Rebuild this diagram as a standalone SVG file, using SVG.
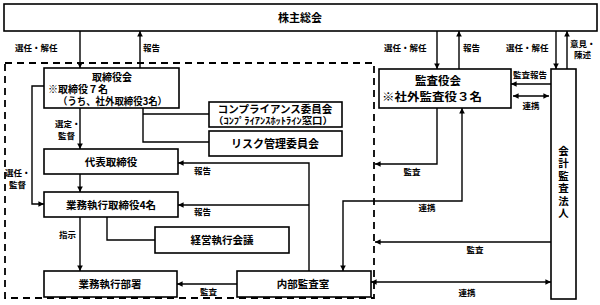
<svg xmlns="http://www.w3.org/2000/svg" width="600" height="305" viewBox="0 0 600 305">
<defs>
<marker id="ah" viewBox="0 0 6 6" refX="6" refY="3" markerWidth="4" markerHeight="4" markerUnits="strokeWidth" orient="auto-start-reverse"><path d="M0,0 L6,3 L0,6 z" fill="#000"/></marker>
<style>
.box{fill:#fff;stroke:#000;stroke-width:1.6}
.ln{fill:none;stroke:#000;stroke-width:1.4}
.ar{fill:none;stroke:#000;stroke-width:1.4;marker-end:url(#ah)}
.ar2{fill:none;stroke:#000;stroke-width:1.4;marker-end:url(#ah);marker-start:url(#ah)}
text{font-family:"Noto Sans CJK JP","Noto Sans",sans-serif;font-weight:bold;fill:#000}
.t{font-size:10.5px}
.s{font-size:8.5px}
.m{text-anchor:middle}
</style>
</defs>
<rect width="600" height="305" fill="#fff"/>
<rect x="5" y="63" width="369" height="235" fill="none" stroke="#000" stroke-width="1.8" stroke-dasharray="7,5"/>
<g id="connectors">
<path class="ar" d="M80,31 V68"/>
<path class="ar" d="M140,68 V31"/>
<path class="ar" d="M437,31 V69"/>
<path class="ar" d="M459,69 V31"/>
<path class="ar" d="M556,31 V69"/>
<path class="ar" d="M567,69 V31"/>
<path class="ln" d="M143,108 V142 H209 M143,114 H209"/>
<path class="ar" d="M80,108 V149"/>
<path class="ar" d="M80,174 V192"/>
<path class="ar" d="M44,86 H32 V204 H44"/>
<path class="ar" d="M80,217 V271"/>
<path class="ln" d="M107,217 V240 H155"/>
<path class="ar" d="M237,284 H177"/>
<path class="ar" d="M309,271 V163 H178"/>
<path class="ar" d="M309,205 H178"/>
<path class="ar2" d="M462,108 V201 H343 V271"/>
<path class="ar" d="M437,108 V164 H375"/>
<path class="ar" d="M551,84 H511"/>
<path class="ar2" d="M513,96 H549"/>
<path class="ar" d="M551,242 H375"/>
<path class="ar2" d="M371,282 H551"/>
</g>
<g id="labels">
<text class="s" x="15" y="51">選任・解任</text>
<text class="s" x="143" y="51">報告</text>
<text class="s" x="384" y="51">選任・解任</text>
<text class="s" x="463" y="51">報告</text>
<text class="s" x="506" y="51">選任・解任</text>
<text class="s" x="570" y="47">意見・</text>
<text class="s" x="574" y="58">陳述</text>
<text class="s" x="513" y="78">監査報告</text>
<text class="s m" x="531" y="109">連携</text>
<text class="s" x="55" y="127">選定・</text>
<text class="s" x="58" y="139">監督</text>
<text class="s" x="5" y="176">選任・</text>
<text class="s" x="9" y="188">監督</text>
<text class="s" x="194" y="174">報告</text>
<text class="s" x="194" y="215">報告</text>
<text class="s" x="59" y="238">指示</text>
<text class="s" x="200" y="295">監査</text>
<text class="s m" x="412" y="175">監査</text>
<text class="s m" x="427" y="211">連携</text>
<text class="s m" x="475" y="253">監査</text>
<text class="s m" x="467" y="296">連携</text>
</g>
<g id="shareholders"><rect class="box" x="4" y="4" width="593" height="27"/><text class="m" font-size="11" x="300" y="21.5">株主総会</text></g>
<g id="board"><rect class="box" x="44" y="68" width="135" height="40"/><text font-size="10"><tspan x="112" y="80.5" text-anchor="middle">取締役会</tspan><tspan x="48" y="92.5">※取締役７名</tspan><tspan x="58" y="104.5" textLength="109" lengthAdjust="spacingAndGlyphs">（うち、社外取締役3名）</tspan></text></g>
<g id="compliance"><rect class="box" x="209" y="102" width="133" height="25"/><text><tspan font-size="10.5" x="275" y="112.5" text-anchor="middle">コンプライアンス委員会</tspan><tspan font-size="9.5" x="213" y="124" textLength="120" lengthAdjust="spacingAndGlyphs">（ｺﾝﾌﾟﾗｲｱﾝｽﾎｯﾄﾗｲﾝ窓口）</tspan></text></g>
<g id="risk"><rect class="box" x="209" y="131" width="133" height="25"/><text class="m" font-size="11" x="275" y="147.5">リスク管理委員会</text></g>
<g id="president"><rect class="box" x="44" y="149" width="134" height="25"/><text class="t m" x="111" y="165.5">代表取締役</text></g>
<g id="exec-directors"><rect class="box" x="44" y="192" width="134" height="25"/><text class="t m" x="111" y="208.5">業務執行取締役4名</text></g>
<g id="exec-meeting"><rect class="box" x="155" y="227" width="134" height="26"/><text class="t m" x="222" y="244">経営執行会議</text></g>
<g id="exec-dept"><rect class="box" x="44" y="271" width="133" height="26"/><text class="t m" x="110" y="288">業務執行部署</text></g>
<g id="internal-audit"><rect class="box" x="237" y="271" width="134" height="26"/><text class="t m" x="303" y="288">内部監査室</text></g>
<g id="auditors"><rect class="box" x="379" y="69" width="132" height="39"/><text><tspan font-size="11.5" x="438" y="85" text-anchor="middle">監査役会</tspan><tspan font-size="11" x="382" y="100.5" textLength="100" lengthAdjust="spacingAndGlyphs">※社外監査役３名</tspan></text></g>
<g id="accounting-auditor"><rect class="box" x="551" y="69" width="25" height="230"/>
<text class="t m" x="563.5" y="183" style="writing-mode:vertical-rl;letter-spacing:2px">会計監査法人</text></g>
</svg>
